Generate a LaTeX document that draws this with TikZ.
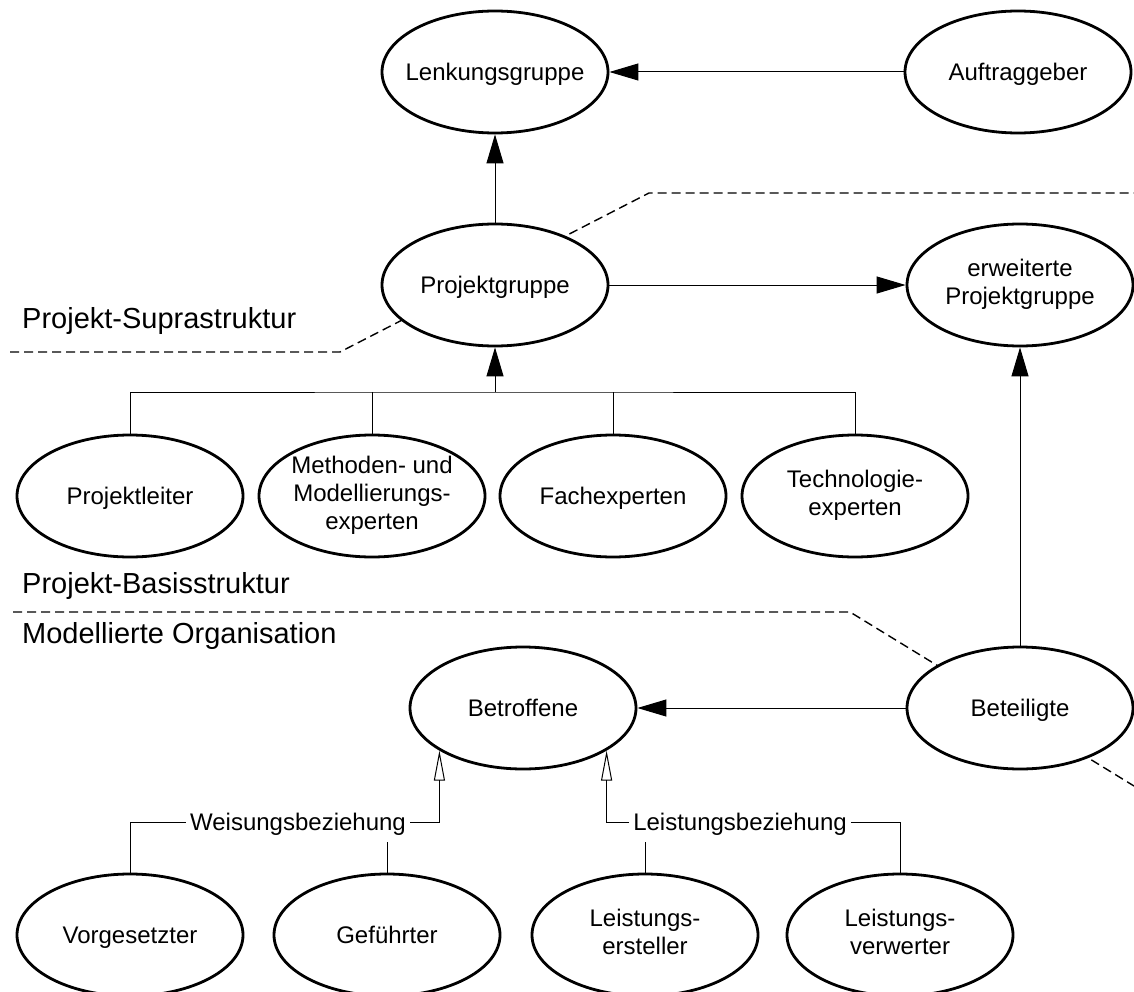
\documentclass[tikz,border=0pt]{standalone}
\usepackage{fontspec}
\setmainfont{Liberation Sans}
\usetikzlibrary{arrows.meta,shapes.geometric,calc}

% line struts so that every role text is set on the same baseline
\newcommand{\rolestrutA}{\rule{0pt}{23pt}}
\newcommand{\rolestrutB}{\rule[-5.8pt]{0pt}{5.8pt}}

\begin{document}
\begin{tikzpicture}[x=1pt,y=-1pt,
  role/.style={ellipse,draw,line width=2.8pt,fill=white,
    minimum width=226pt,minimum height=122pt,inner sep=-10pt,
    align=center,font=\fontsize{24}{28}\selectfont,
    execute at begin node=\rolestrutA,execute at end node=\rolestrutB},
  link/.style={line width=1pt},
  arr/.style={link,-{Triangle[length=29pt,width=17pt]}},
  genarr/.style={link,-{Triangle[open,length=30pt,width=11pt]}},
  boundary/.style={line width=1.4pt,dash pattern=on 9pt off 5pt},
  zone/.style={anchor=base west,inner sep=0pt,font=\fontsize{29}{34}\selectfont},
  rel/.style={font=\fontsize{24}{28}\selectfont,text height=17.2pt,
    text depth=0pt,inner ysep=0pt,inner xsep=4pt}
]
\useasboundingbox (0,0) rectangle (1134,992);

% layer boundaries
\draw[boundary] (10,352) -- (340,352) -- (649,193) -- (1134,193);
\draw[boundary] (13,612) -- (850,612) -- (1134,786);

% layer titles
\node[zone] (supra) at (22,328) {Projekt-Suprastruktur};
\node[zone] (basis) at (22,593) {Projekt-Basisstruktur};
\node[zone] (orga)  at (22,643) {Modellierte Organisation};

% project suprastructure
\node[role] (lenk) at (495,72)  {Lenkungsgruppe};
\node[role] (auf)  at (1018,72) {Auftraggeber};
\node[role] (pg)   at (495,285) {Projektgruppe};
\node[role] (erw)  at (1020,285) {erweiterte\\Projektgruppe};

% project base structure
\node[role] (pl)   at (130,496) {Projektleiter};
\node[role] (mme)  at (372,496) {Methoden- und\\Modellierungs-\\experten};
\node[role] (fach) at (613,496) {Fachexperten};
\node[role] (tech) at (855,496) {Technologie-\\experten};

% modelled organisation
\node[role] (betr) at (523,708)  {Betroffene};
\node[role] (bet)  at (1020,708) {Beteiligte};
\node[role] (vorg) at (130,935)  {Vorgesetzter};
\node[role] (gef)  at (387,935)  {Geführter};
\node[role] (lerst) at (645,935) {Leistungs-\\ersteller};
\node[role] (lverw) at (900,935) {Leistungs-\\verwerter};

% steering relations
\draw[arr] (auf) -- (lenk);
\draw[arr] (pg) -- (lenk);
\draw[arr] (pg) -- (erw);

% members of the project group
\coordinate (bus) at (495,392);
\draw[link] (pl.north) |- (bus) -| (tech.north);
\draw[link] (mme.north) -- (mme.north |- bus);
\draw[link] (fach.north) -- (fach.north |- bus);
\draw[arr] (bus) -- (pg.south);

% participants
\draw[arr] (bet) -- (erw);
\draw[arr] (bet) -- (betr);

% kinds of affected persons
\node[rel] (wrel) at (298,822) {Weisungsbeziehung};
\node[rel] (lrel) at (740,822) {Leistungsbeziehung};
\draw[link] (vorg.north) |- (wrel.west);
\draw[genarr] (wrel.east) -| (betr.207.4);
\draw[link] (gef.north) -- ($(gef.north |- wrel.south)+(0,11)$);
\draw[genarr] (lrel.west) -| (betr.-27.6);
\draw[link] (lrel.east) -| (lverw.north);
\draw[link] (lerst.north) -- ($(lerst.north |- lrel.south)+(0,11)$);
\end{tikzpicture}
\end{document}
